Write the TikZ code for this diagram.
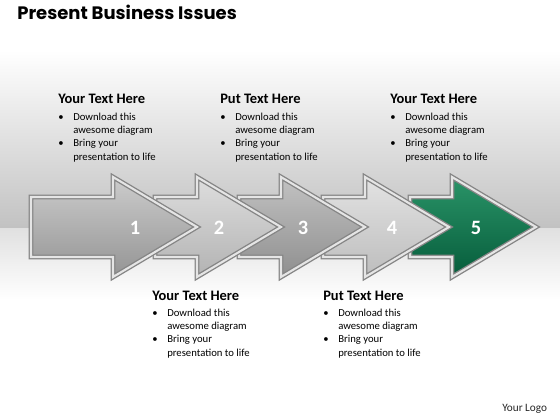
\documentclass[tikz,border=0pt]{standalone}
\usepackage{fontspec}
\setmainfont{Carlito}
\newfontfamily\titlefont{Poppins}

\definecolor{bizgreenhi}{HTML}{2A9468}
\definecolor{bizgreenlo}{HTML}{065C3B}

% one bevelled block arrow: tail x, head base x, fill style
\newcommand{\bizarrow}[3]{%
  \path[#3, bevel] (#1,197) -- (#2,197) -- (#2,177) -- ({#2+84},227)
    -- (#2,277) -- (#2,257) -- (#1,257) -- cycle;
}
% heading plus two bullets
\newcommand{\infoblock}[4]{% name, x, baseline y, heading
  \node[heading] (#1h) at (#2,#3) {#4};
  \node[bullets] (#1b) at (#2,{#3+16}) {%
    \begin{tabular}[t]{@{}p{0.375cm}@{}l@{}}
      \textbullet & Download this\\
                  & awesome diagram\\
      \textbullet & Bring your\\
                  & presentation to life
    \end{tabular}};
}

\begin{document}
\begin{tikzpicture}[
  x=0.025cm, y=-0.025cm,
  bevel/.style={line join=miter,
    postaction={draw=black!48, line width=3.4pt},
    postaction={draw=white!90!black, line width=1.5pt}},
  greyA/.style={top color=black!20, bottom color=black!42},
  greyB/.style={top color=black!13, bottom color=black!30},
  greyC/.style={top color=black!24, bottom color=black!44},
  greyD/.style={top color=black!11, bottom color=black!26},
  greenE/.style={top color=bizgreenhi, bottom color=bizgreenlo},
  num/.style={text=white, font=\bfseries\fontsize{14.5}{14}\selectfont},
  heading/.style={anchor=base west, inner sep=0pt, font=\bfseries\fontsize{10.3}{12}\selectfont},
  bullets/.style={anchor=base west, inner sep=0pt, font=\fontsize{7.6}{9.6}\selectfont},
]
  \useasboundingbox (0,0) rectangle (560,420);
  \fill[white] (0,0) rectangle (560,420);

  % backdrop band
  \shade[top color=white, bottom color=black!24] (0,50) rectangle (560,228);
  \shade[top color=black!12, bottom color=white] (0,228) rectangle (560,300);

  % title
  \node[anchor=base west, inner sep=0pt, font=\titlefont\bfseries\fontsize{12.8}{16}\selectfont]
    (title) at (17,20) {Present Business Issues};

  % arrows, last one at the back
  \bizarrow{410}{452}{greenE}
  \bizarrow{323}{365}{greyD}
  \bizarrow{239}{281}{greyC}
  \bizarrow{155}{197}{greyB}
  \bizarrow{31}{113}{greyA}

  % step numbers
  \node[num] (n1) at (135,228) {1};
  \node[num] (n2) at (219,228) {2};
  \node[num] (n3) at (303,228) {3};
  \node[num] (n4) at (392,228) {4};
  \node[num] (n5) at (476,228) {5};

  % Row 1: text above
  \infoblock{t1}{58}{104}{Your Text Here}
  \infoblock{t2}{220}{104}{Put Text Here}
  \infoblock{t3}{390}{104}{Your Text Here}

  % Row 2: text below
  \infoblock{b1}{152}{300}{Your Text Here}
  \infoblock{b2}{323}{300}{Put Text Here}

  % logo
  \node[anchor=base west, inner sep=0pt, font=\fontsize{8}{10}\selectfont, text=black!85]
    (logo) at (502,411) {Your Logo};
\end{tikzpicture}
\end{document}
